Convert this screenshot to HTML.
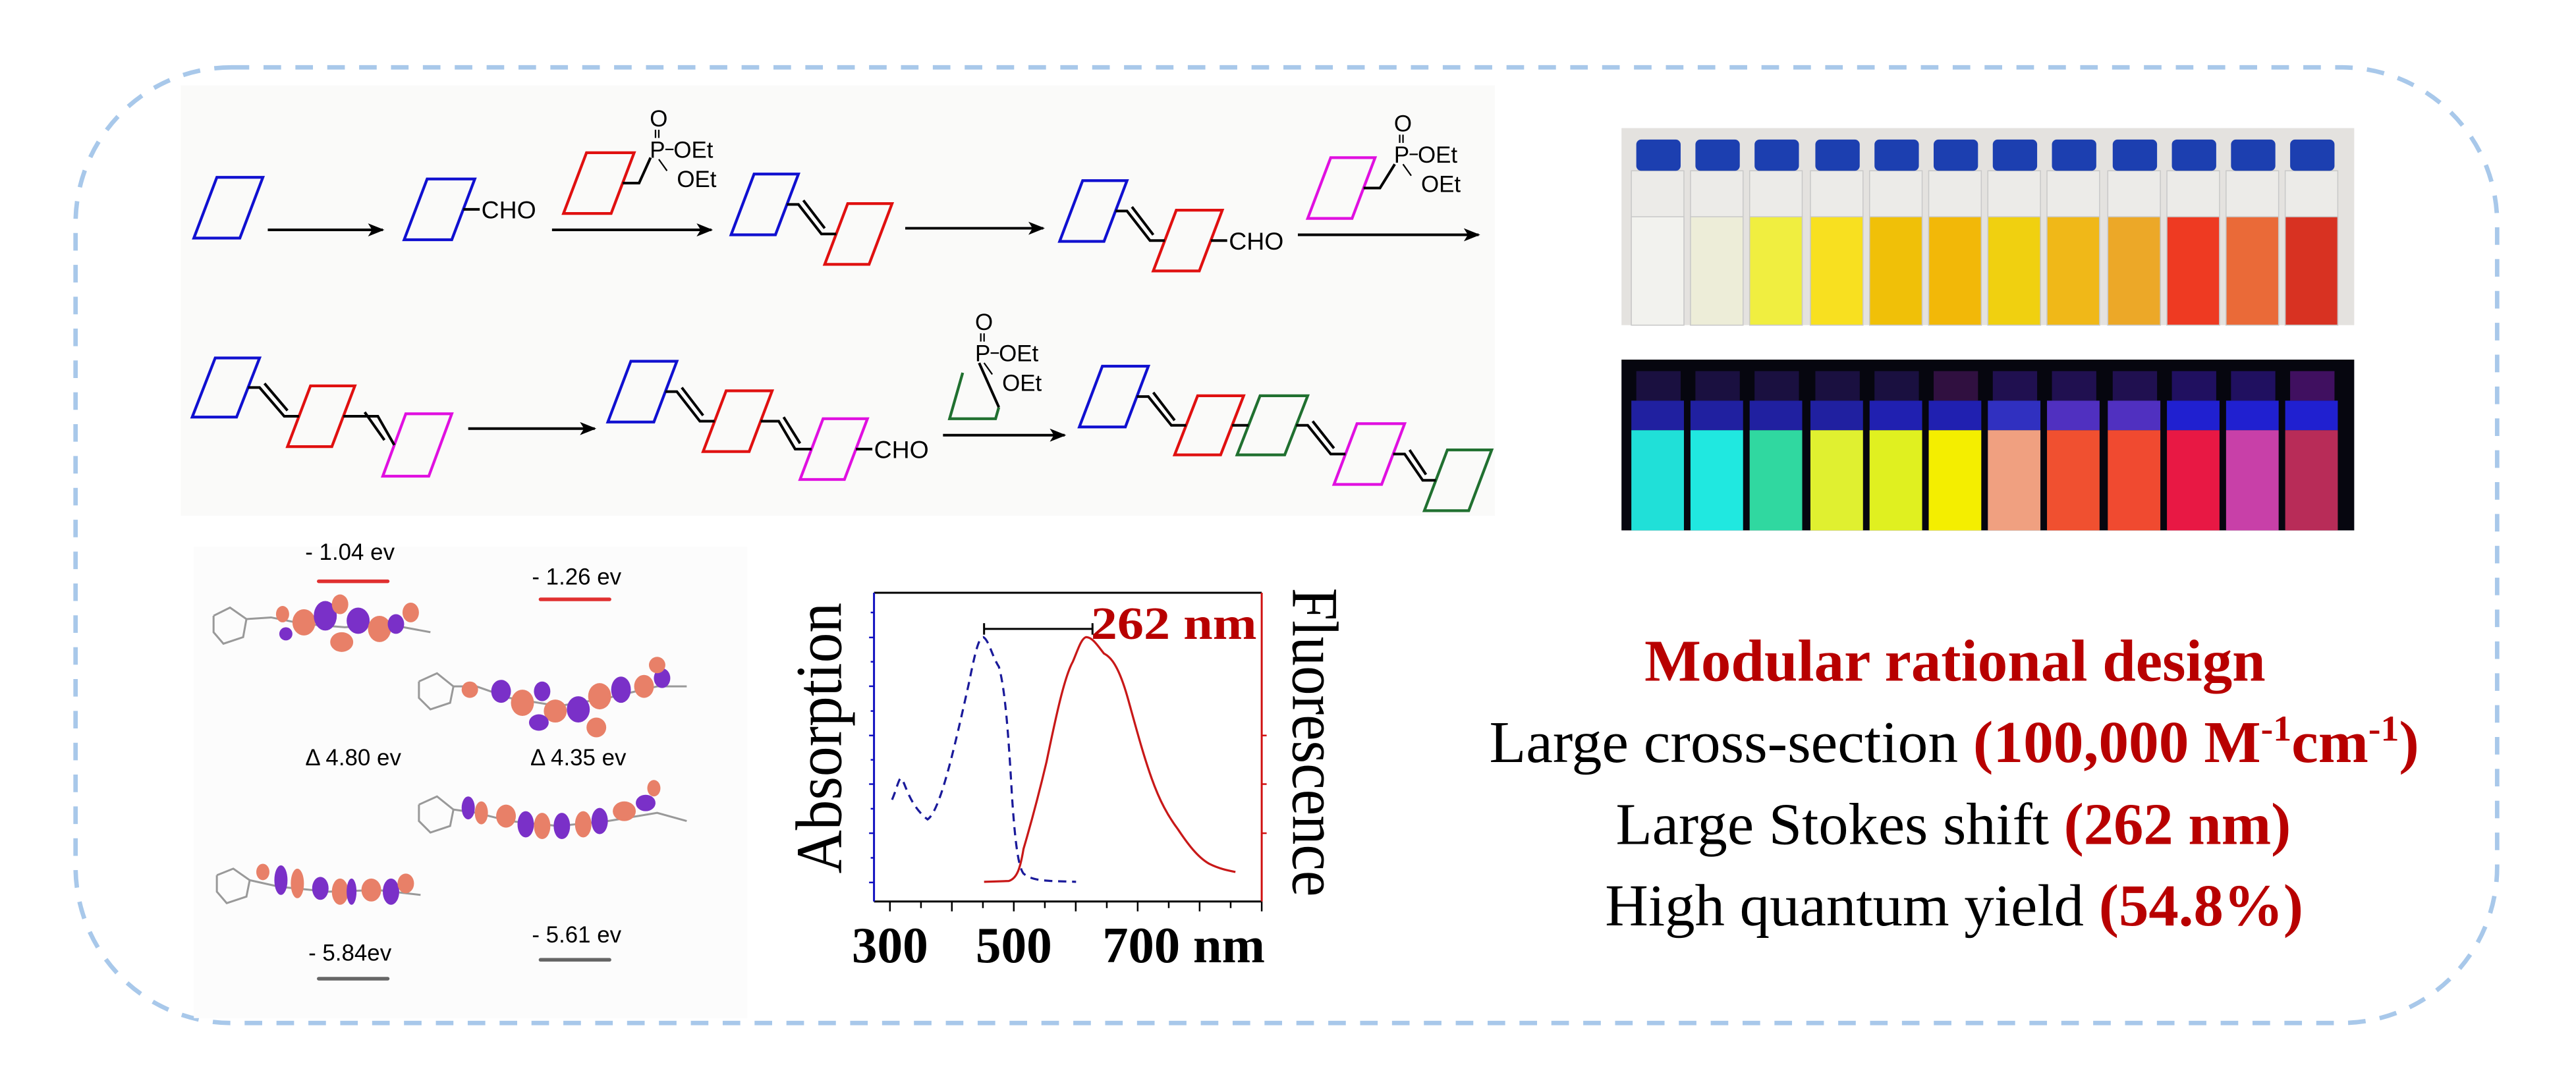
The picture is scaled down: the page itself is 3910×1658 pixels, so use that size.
<!DOCTYPE html>
<html><head><meta charset="utf-8"><style>
html,body{margin:0;padding:0;background:#fff;}
svg{display:block;}
.s{font-family:"Liberation Sans",sans-serif;}
.t{font-family:"Liberation Serif",serif;}
</style></head><body>
<svg width="3910" height="1658" viewBox="0 0 1568 665" preserveAspectRatio="none" xmlns="http://www.w3.org/2000/svg">
<defs>
<marker id="ar" markerWidth="10" markerHeight="8" refX="9" refY="4" orient="auto" markerUnits="userSpaceOnUse">
<path d="M0,0 L10,4 L0,8 L2.5,4 Z" fill="#000"/></marker>
</defs>
<rect width="1568" height="665" fill="#fff"/>
<rect x="46" y="41" width="1474" height="582" rx="95" ry="95" fill="none" stroke="#a8c8ea" stroke-width="2.7" stroke-dasharray="10.7 8.7"/>

<!-- scheme panel -->
<rect x="110" y="52" width="800" height="262" fill="#fafaf9"/>
<g fill="none" stroke-width="1.7" stroke-linejoin="miter">
<polygon stroke="#1010d0" points="132,108 160,108 146,145 118,145"/>
<polygon stroke="#1010d0" points="260,109 289,109 275,146 246,146"/>
<polygon stroke="#e01010" points="357,93 386,93 372,130 343,130"/>
<polygon stroke="#1010d0" points="459,106 486,106 472,143 445,143"/>
<polygon stroke="#e01010" points="516,124 543,124 529,161 502,161"/>
<polygon stroke="#1010d0" points="659,110 686,110 672,147 645,147"/>
<polygon stroke="#e01010" points="716,128 744,128 730,165 702,165"/>
<polygon stroke="#e010e0" points="810,96 837,96 823,133 796,133"/>
<polygon stroke="#1010d0" points="131,218 158,218 144,254 117,254"/>
<polygon stroke="#e01010" points="189,235 216,235 202,272 175,272"/>
<polygon stroke="#e010e0" points="247,252 275,252 261,290 233,290"/>
<polygon stroke="#1010d0" points="384,220 412,220 398,257 370,257"/>
<polygon stroke="#e01010" points="442,238 470,238 456,275 428,275"/>
<polygon stroke="#e010e0" points="501,255 528,255 514,292 487,292"/>
<polyline stroke="#207030" points="586,227 578,255 606,255 608,248"/>
<polygon stroke="#1010d0" points="671,223 699,223 685,260 657,260"/>
<polygon stroke="#e01010" points="729,241 757,241 743,277 715,277"/>
<polygon stroke="#207030" points="767,241 796,241 782,277 753,277"/>
<polygon stroke="#e010e0" points="826,258 855,258 841,295 812,295"/>
<polygon stroke="#207030" points="881,274 908,274 894,311 867,311"/>
</g>
<g fill="none" stroke="#000" stroke-width="1.6">
<polyline points="479,124.5 486,124.5 500,142.5 509,142.5"/><line x1="489" y1="122" x2="502" y2="139"/>
<polyline points="679,128.5 686,128.5 700,146.5 709,146.5"/><line x1="689" y1="126" x2="702" y2="143"/>
<polyline points="151,236 158,236 173,253.5 182,253.5"/><line x1="161" y1="233.5" x2="175" y2="250"/>
<polyline points="209,253.5 220,253.5 230,253.5 240,271"/><line x1="222" y1="251" x2="234" y2="268"/>
<polyline points="405,238.5 412,238.5 426,256.5 435,256.5"/><line x1="415" y1="236" x2="428" y2="253"/>
<polyline points="463,256.5 474,256.5 484,273.5 494,273.5"/><line x1="477" y1="254" x2="487" y2="270"/>
<polyline points="692,241.5 699,241.5 713,259 722,259"/><line x1="702" y1="239" x2="715" y2="256"/>
<line x1="750" y1="259" x2="760" y2="259"/>
<polyline points="789,259 796,259 810,276.5 819,276.5"/><line x1="799" y1="256.5" x2="812" y2="273"/>
<polyline points="848,276.5 855,276.5 866,292.5 874,292.5"/><line x1="858" y1="274" x2="868" y2="289"/>
<line x1="282" y1="127.5" x2="292" y2="127.5"/>
<line x1="737" y1="146.5" x2="747" y2="146.5"/>
<line x1="521" y1="273.5" x2="531" y2="273.5"/>
<polyline points="379,111.5 389,111.5 396,96"/>
<polyline points="830,114.5 840,114.5 849,100"/>
<polyline points="608,248 596,221"/>
<line x1="163" y1="140" x2="233" y2="140" marker-end="url(#ar)"/>
<line x1="336" y1="140" x2="433" y2="140" marker-end="url(#ar)"/>
<line x1="551" y1="139" x2="635" y2="139" marker-end="url(#ar)"/>
<line x1="790" y1="143" x2="900" y2="143" marker-end="url(#ar)"/>
<line x1="285" y1="261" x2="362" y2="261" marker-end="url(#ar)"/>
<line x1="574" y1="265" x2="648" y2="265" marker-end="url(#ar)"/>
</g>
<g class="s" font-size="15" fill="#000">
<text x="293" y="133">CHO</text>
<text x="748" y="152">CHO</text>
<text x="532" y="279">CHO</text>
</g>
<!-- phosphonates -->
<g class="s" font-size="14" fill="#000" stroke="none">
<g transform="translate(400,0)"><text x="-4.5" y="77">O</text><text x="-4.5" y="96">P</text><text x="10" y="96">OEt</text><text x="12" y="114">OEt</text></g>
<g transform="translate(853,0)"><text x="-4.5" y="80">O</text><text x="-4.5" y="99">P</text><text x="10" y="99">OEt</text><text x="12" y="117">OEt</text></g>
<g transform="translate(598,0)"><text x="-4.5" y="201">O</text><text x="-4.5" y="220">P</text><text x="10" y="220">OEt</text><text x="12" y="238">OEt</text></g>
</g>
<g stroke="#000" stroke-width="0.9">
<line x1="399" y1="79" x2="399" y2="84"/><line x1="401" y1="79" x2="401" y2="84"/><line x1="405" y1="91" x2="410" y2="91"/><line x1="401" y1="97" x2="406" y2="104"/>
<line x1="852" y1="82" x2="852" y2="87"/><line x1="854" y1="82" x2="854" y2="87"/><line x1="858" y1="94" x2="863" y2="94"/><line x1="854" y1="100" x2="859" y2="107"/>
<line x1="597" y1="203" x2="597" y2="208"/><line x1="599" y1="203" x2="599" y2="208"/><line x1="603" y1="215" x2="608" y2="215"/><line x1="599" y1="221" x2="604" y2="228"/>
</g>

<!-- photo 1 -->
<rect x="987" y="78" width="446" height="120" fill="#e4e2df"/>
<g id="v1">
<g stroke="#c8c8c8" stroke-width="0.6">
<rect x="993" y="104" width="32" height="94" fill="#ecebe8"/><rect x="993" y="132" width="32" height="66" fill="#f2f2ee"/><rect x="996" y="85" width="27" height="19" rx="3" fill="#1c3fb0" stroke="none"/>
<rect x="1029" y="104" width="32" height="94" fill="#ecebe8"/><rect x="1029" y="132" width="32" height="66" fill="#ededd8"/><rect x="1032" y="85" width="27" height="19" rx="3" fill="#1c3fb0" stroke="none"/>
<rect x="1065" y="104" width="32" height="94" fill="#ecebe8"/><rect x="1065" y="132" width="32" height="66" fill="#f0ee40"/><rect x="1068" y="85" width="27" height="19" rx="3" fill="#1c3fb0" stroke="none"/>
<rect x="1102" y="104" width="32" height="94" fill="#ecebe8"/><rect x="1102" y="132" width="32" height="66" fill="#f8e020"/><rect x="1105" y="85" width="27" height="19" rx="3" fill="#1c3fb0" stroke="none"/>
<rect x="1138" y="104" width="32" height="94" fill="#ecebe8"/><rect x="1138" y="132" width="32" height="66" fill="#f0c008"/><rect x="1141" y="85" width="27" height="19" rx="3" fill="#1c3fb0" stroke="none"/>
<rect x="1174" y="104" width="32" height="94" fill="#ecebe8"/><rect x="1174" y="132" width="32" height="66" fill="#f2b808"/><rect x="1177" y="85" width="27" height="19" rx="3" fill="#1c3fb0" stroke="none"/>
<rect x="1210" y="104" width="32" height="94" fill="#ecebe8"/><rect x="1210" y="132" width="32" height="66" fill="#f0d010"/><rect x="1213" y="85" width="27" height="19" rx="3" fill="#1c3fb0" stroke="none"/>
<rect x="1246" y="104" width="32" height="94" fill="#ecebe8"/><rect x="1246" y="132" width="32" height="66" fill="#f0b818"/><rect x="1249" y="85" width="27" height="19" rx="3" fill="#1c3fb0" stroke="none"/>
<rect x="1283" y="104" width="32" height="94" fill="#ecebe8"/><rect x="1283" y="132" width="32" height="66" fill="#eca828"/><rect x="1286" y="85" width="27" height="19" rx="3" fill="#1c3fb0" stroke="none"/>
<rect x="1319" y="104" width="32" height="94" fill="#ecebe8"/><rect x="1319" y="132" width="32" height="66" fill="#ee3a22"/><rect x="1322" y="85" width="27" height="19" rx="3" fill="#1c3fb0" stroke="none"/>
<rect x="1355" y="104" width="32" height="94" fill="#ecebe8"/><rect x="1355" y="132" width="32" height="66" fill="#ea6a38"/><rect x="1358" y="85" width="27" height="19" rx="3" fill="#1c3fb0" stroke="none"/>
<rect x="1391" y="104" width="32" height="94" fill="#ecebe8"/><rect x="1391" y="132" width="32" height="66" fill="#d83222"/><rect x="1394" y="85" width="27" height="19" rx="3" fill="#1c3fb0" stroke="none"/>
</g></g>
<!-- photo 2 -->
<rect x="987" y="219" width="446" height="104" fill="#06060f"/>
<g>
<rect x="996" y="226" width="27" height="18" fill="#1a1040"/><rect x="993" y="244" width="32" height="18" fill="#2020a0"/><rect x="993" y="262" width="32" height="61" fill="#20e0d8"/>
<rect x="1032" y="226" width="27" height="18" fill="#1a1040"/><rect x="1029" y="244" width="32" height="18" fill="#2020a0"/><rect x="1029" y="262" width="32" height="61" fill="#20e8e0"/>
<rect x="1068" y="226" width="27" height="18" fill="#1a1040"/><rect x="1065" y="244" width="32" height="18" fill="#2020a0"/><rect x="1065" y="262" width="32" height="61" fill="#30d8a0"/>
<rect x="1105" y="226" width="27" height="18" fill="#1a1040"/><rect x="1102" y="244" width="32" height="18" fill="#2020a0"/><rect x="1102" y="262" width="32" height="61" fill="#e0f030"/>
<rect x="1141" y="226" width="27" height="18" fill="#1a1040"/><rect x="1138" y="244" width="32" height="18" fill="#2020b0"/><rect x="1138" y="262" width="32" height="61" fill="#e0f020"/>
<rect x="1177" y="226" width="27" height="18" fill="#301040"/><rect x="1174" y="244" width="32" height="18" fill="#2020b0"/><rect x="1174" y="262" width="32" height="61" fill="#f4ee00"/>
<rect x="1213" y="226" width="27" height="18" fill="#201050"/><rect x="1210" y="244" width="32" height="18" fill="#3030c0"/><rect x="1210" y="262" width="32" height="61" fill="#f0a080"/>
<rect x="1249" y="226" width="27" height="18" fill="#201050"/><rect x="1246" y="244" width="32" height="18" fill="#5030c0"/><rect x="1246" y="262" width="32" height="61" fill="#f05030"/>
<rect x="1286" y="226" width="27" height="18" fill="#201050"/><rect x="1283" y="244" width="32" height="18" fill="#5030c0"/><rect x="1283" y="262" width="32" height="61" fill="#f04a30"/>
<rect x="1322" y="226" width="27" height="18" fill="#201060"/><rect x="1319" y="244" width="32" height="18" fill="#2020d0"/><rect x="1319" y="262" width="32" height="61" fill="#e81844"/>
<rect x="1358" y="226" width="27" height="18" fill="#201060"/><rect x="1355" y="244" width="32" height="18" fill="#2020d0"/><rect x="1355" y="262" width="32" height="61" fill="#c840a8"/>
<rect x="1394" y="226" width="27" height="18" fill="#401060"/><rect x="1391" y="244" width="32" height="18" fill="#2020d0"/><rect x="1391" y="262" width="32" height="61" fill="#b82c58"/>
</g>

<!-- MO panel -->
<rect x="118" y="333" width="337" height="287" fill="#fcfcfc"/>
<g class="s" font-size="14" fill="#000" text-anchor="middle">
<text x="213" y="341">- 1.04 ev</text>
<text x="351" y="356">- 1.26 ev</text>
<text x="215" y="466">Δ 4.80 ev</text>
<text x="352" y="466">Δ 4.35 ev</text>
<text x="351" y="574">- 5.61 ev</text>
<text x="213" y="585">- 5.84ev</text>
</g>
<g stroke-width="2.2" stroke-linecap="round">
<line x1="194" y1="354" x2="236" y2="354" stroke="#e03030"/>
<line x1="329" y1="365" x2="371" y2="365" stroke="#e03030"/>
<line x1="329" y1="584.5" x2="371" y2="584.5" stroke="#666"/>
<line x1="194" y1="596" x2="236" y2="596" stroke="#666"/>
</g>
<g stroke="#999" stroke-width="1.2" fill="none">
<polyline points="130,375 140,370 150,377 148,388 136,392 130,385 130,375"/>
<polyline points="150,377 165,376 185,380 210,382 235,380 262,385"/>
<polyline points="255,415 266,410 276,418 274,428 262,432 255,425 255,415"/>
<polyline points="276,418 290,418 310,425 340,430 370,425 400,418 418,418"/>
<polyline points="255,490 266,485 276,493 274,503 262,507 255,500 255,490"/>
<polyline points="276,493 290,495 310,500 340,503 370,500 400,495 418,500"/>
<polyline points="132,533 142,529 152,536 150,546 138,550 132,543 132,533"/>
<polyline points="152,536 170,540 200,543 230,542 256,545"/>
</g>
<g>
<ellipse cx="172" cy="374" rx="4" ry="5" fill="#e88068"/><ellipse cx="174" cy="386" rx="4" ry="4" fill="#7a30c8"/>
<ellipse cx="185" cy="379" rx="7" ry="8" fill="#e88068"/><ellipse cx="198" cy="375" rx="7" ry="9" fill="#7a30c8"/>
<ellipse cx="207" cy="368" rx="5" ry="6" fill="#e88068"/><ellipse cx="208" cy="391" rx="7" ry="6" fill="#e88068"/>
<ellipse cx="218" cy="378" rx="7" ry="8" fill="#7a30c8"/><ellipse cx="231" cy="383" rx="7" ry="8" fill="#e88068"/>
<ellipse cx="241" cy="380" rx="5" ry="6" fill="#7a30c8"/><ellipse cx="250" cy="373" rx="5" ry="6" fill="#e88068"/>
<ellipse cx="286" cy="420" rx="5" ry="5" fill="#e88068"/><ellipse cx="305" cy="421" rx="6" ry="7" fill="#7a30c8"/>
<ellipse cx="318" cy="428" rx="7" ry="8" fill="#e88068"/><ellipse cx="330" cy="421" rx="5" ry="6" fill="#7a30c8"/>
<ellipse cx="338" cy="433" rx="7" ry="7" fill="#e88068"/><ellipse cx="328" cy="440" rx="6" ry="5" fill="#7a30c8"/>
<ellipse cx="352" cy="432" rx="7" ry="8" fill="#7a30c8"/><ellipse cx="365" cy="424" rx="7" ry="8" fill="#e88068"/>
<ellipse cx="363" cy="443" rx="6" ry="6" fill="#e88068"/><ellipse cx="378" cy="420" rx="6" ry="8" fill="#7a30c8"/>
<ellipse cx="392" cy="418" rx="6" ry="7" fill="#e88068"/><ellipse cx="403" cy="413" rx="5" ry="6" fill="#7a30c8"/>
<ellipse cx="400" cy="405" rx="5" ry="5" fill="#e88068"/>
<ellipse cx="285" cy="492" rx="4" ry="7" fill="#7a30c8"/><ellipse cx="293" cy="495" rx="4" ry="7" fill="#e88068"/>
<ellipse cx="308" cy="497" rx="6" ry="7" fill="#e88068"/><ellipse cx="320" cy="502" rx="5" ry="8" fill="#7a30c8"/>
<ellipse cx="330" cy="503" rx="5" ry="8" fill="#e88068"/><ellipse cx="342" cy="503" rx="5" ry="8" fill="#7a30c8"/>
<ellipse cx="355" cy="502" rx="5" ry="8" fill="#e88068"/><ellipse cx="365" cy="500" rx="5" ry="8" fill="#7a30c8"/>
<ellipse cx="380" cy="494" rx="7" ry="6" fill="#e88068"/><ellipse cx="393" cy="489" rx="6" ry="5" fill="#7a30c8"/>
<ellipse cx="398" cy="480" rx="4" ry="5" fill="#e88068"/>
<ellipse cx="160" cy="531" rx="4" ry="5" fill="#e88068"/><ellipse cx="171" cy="536" rx="4" ry="9" fill="#7a30c8"/>
<ellipse cx="181" cy="538" rx="4" ry="9" fill="#e88068"/><ellipse cx="195" cy="541" rx="5" ry="7" fill="#7a30c8"/>
<ellipse cx="207" cy="543" rx="5" ry="8" fill="#e88068"/><ellipse cx="214" cy="543" rx="3" ry="8" fill="#7a30c8"/>
<ellipse cx="226" cy="542" rx="6" ry="7" fill="#e88068"/><ellipse cx="238" cy="543" rx="5" ry="8" fill="#7a30c8"/>
<ellipse cx="247" cy="538" rx="5" ry="6" fill="#e88068"/>
</g>

<!-- chart -->
<g fill="none" stroke-width="1.2">
<line x1="532" y1="361" x2="768" y2="361" stroke="#000"/>
<line x1="532" y1="549" x2="768" y2="549" stroke="#000"/>
<line x1="532" y1="361" x2="532" y2="549" stroke="#1010c0"/>
<line x1="768" y1="361" x2="768" y2="549" stroke="#d01010"/>
</g>
<g stroke="#000" stroke-width="1">
<line x1="541.7" y1="549" x2="541.7" y2="555"/><line x1="560.6" y1="549" x2="560.6" y2="553"/>
<line x1="579.4" y1="549" x2="579.4" y2="555"/><line x1="598.3" y1="549" x2="598.3" y2="553"/>
<line x1="617.1" y1="549" x2="617.1" y2="555"/><line x1="636" y1="549" x2="636" y2="553"/>
<line x1="654.8" y1="549" x2="654.8" y2="555"/><line x1="673.7" y1="549" x2="673.7" y2="553"/>
<line x1="692.5" y1="549" x2="692.5" y2="555"/><line x1="711.4" y1="549" x2="711.4" y2="553"/>
<line x1="730.2" y1="549" x2="730.2" y2="555"/><line x1="749.1" y1="549" x2="749.1" y2="553"/>
<line x1="768" y1="549" x2="768" y2="555"/>
</g>
<g stroke="#1010c0" stroke-width="1">
<line x1="529" y1="388.2" x2="532" y2="388.2"/><line x1="529" y1="417.9" x2="532" y2="417.9"/><line x1="529" y1="447.9" x2="532" y2="447.9"/>
<line x1="529" y1="477.5" x2="532" y2="477.5"/><line x1="529" y1="507.4" x2="532" y2="507.4"/><line x1="529" y1="537.4" x2="532" y2="537.4"/>
<line x1="530" y1="373" x2="532" y2="373"/><line x1="530" y1="403" x2="532" y2="403"/><line x1="530" y1="433" x2="532" y2="433"/>
<line x1="530" y1="462.7" x2="532" y2="462.7"/><line x1="530" y1="492.5" x2="532" y2="492.5"/><line x1="530" y1="522.4" x2="532" y2="522.4"/>
</g>
<g stroke="#d01010" stroke-width="1">
<line x1="768" y1="447.9" x2="771" y2="447.9"/><line x1="768" y1="477.5" x2="771" y2="477.5"/><line x1="768" y1="507.4" x2="771" y2="507.4"/>
</g>
<path d="M543,487 C546,480 547,474 548.5,474 C551,476 553,490 564.6,499 C572,494 580,460 590,415 C594,395 596,388 598.6,388 C602,390 604,400 608,406 C612,420 614,450 616,485 C618,515 620,528 623,532 C628,536 634,536 640,536.5 L655,537" fill="none" stroke="#1a1a9a" stroke-width="1.3" stroke-dasharray="5 3.5"/>
<path d="M599,537 L614,536.5 C619,535 621,529 623,517 C628,500 632,485 637,464 C643,435 648,412 653,403 C656,396 658,389 661,388 C665,388 668,393 672,398 C676,400 681,405 687,427 C692,445 696,460 701,474 C706,488 711,497 717,505 C723,514 729,522 736,526 C742,529 747,530 752,531" fill="none" stroke="#c81818" stroke-width="1.3"/>
<g stroke="#000" stroke-width="1.2">
<line x1="599" y1="383" x2="665" y2="383"/><line x1="599" y1="379.5" x2="599" y2="386.5"/><line x1="665" y1="379.5" x2="665" y2="386.5"/>
</g>
<text class="t" x="664" y="389" font-size="28" font-weight="bold" fill="#b80000" textLength="101" lengthAdjust="spacingAndGlyphs">262 nm</text>
<text class="t" transform="translate(512,449.5) rotate(-90)" x="0" y="0" font-size="40" text-anchor="middle" fill="#000" textLength="165" lengthAdjust="spacingAndGlyphs">Absorption</text>
<text class="t" transform="translate(787,452) rotate(90)" x="0" y="0" font-size="40" text-anchor="middle" fill="#000" textLength="188" lengthAdjust="spacingAndGlyphs">Fluorescence</text>
<g class="t" font-size="31" font-weight="bold" fill="#000">
<text x="541.7" y="586" text-anchor="middle">300</text>
<text x="617.1" y="586" text-anchor="middle">500</text>
<text x="671" y="586" textLength="99" lengthAdjust="spacingAndGlyphs">700 nm</text>
</g>

<!-- right text -->
<g class="t" font-size="36">
<text x="1001" y="414.6" font-weight="bold" fill="#b80000" textLength="378" lengthAdjust="spacingAndGlyphs">Modular rational design</text>
<text x="906.5" y="464" fill="#000" textLength="566" lengthAdjust="spacingAndGlyphs">Large cross-section <tspan font-weight="bold" fill="#b80000">(100,000 M<tspan font-size="22" dy="-13">-1</tspan><tspan dy="13">cm</tspan><tspan font-size="22" dy="-13">-1</tspan><tspan dy="13">)</tspan></tspan></text>
<text x="983.5" y="514" fill="#000" textLength="411" lengthAdjust="spacingAndGlyphs">Large Stokes shift <tspan font-weight="bold" fill="#b80000">(262 nm)</tspan></text>
<text x="977" y="563.6" fill="#000" textLength="425" lengthAdjust="spacingAndGlyphs">High quantum yield <tspan font-weight="bold" fill="#b80000">(54.8%)</tspan></text>
</g>
</svg>
</body></html>
